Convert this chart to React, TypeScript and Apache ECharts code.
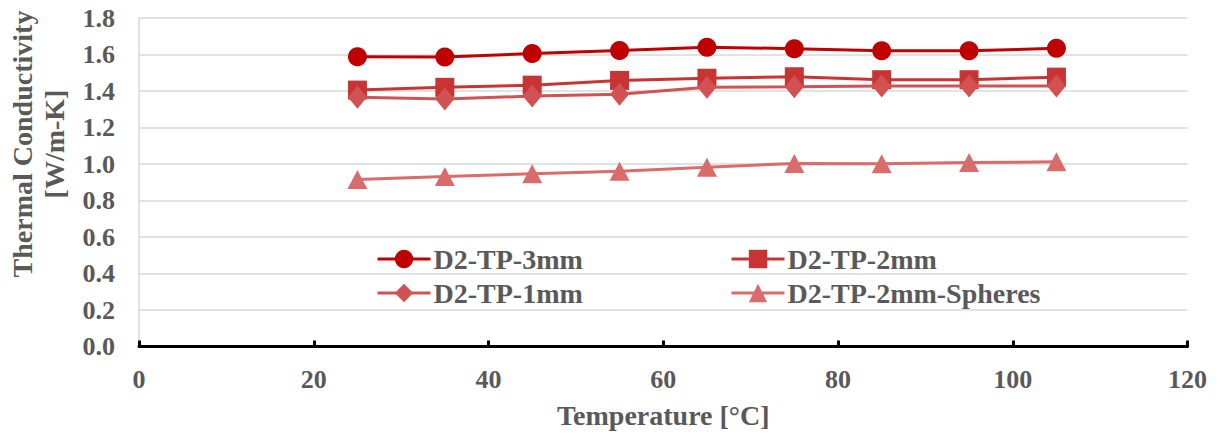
import React, { useEffect, useRef } from "react";
import * as echarts from "echarts";

const temperatures = [25, 35, 45, 55, 65, 75, 85, 95, 105];
const tp3mm = [1.588, 1.586, 1.605, 1.622, 1.64, 1.632, 1.62, 1.62, 1.634];
const tp2mm = [1.405, 1.42, 1.432, 1.458, 1.47, 1.478, 1.462, 1.462, 1.476];
const tp1mm = [1.366, 1.356, 1.372, 1.382, 1.42, 1.423, 1.428, 1.428, 1.428];
const tp2mmSpheres = [0.915, 0.932, 0.946, 0.96, 0.982, 1.003, 1.002, 1.008, 1.012];

const seriesNames = ["D2-TP-3mm", "D2-TP-2mm", "D2-TP-1mm", "D2-TP-2mm-Spheres"];
const seriesColors = ["#C00000", "#C83434", "#D05252", "#DA6B6B"];
const yTitle = "Thermal Conductivity\n[W/m-K]";
const xTitle = "Temperature [°C]";

const FONT = '"Liberation Serif", "Times New Roman", serif';
const TEXT_COLOR = "#595959";

export default function App() {
  const ref = useRef<HTMLDivElement>(null);

  useEffect(() => {
    document.body.style.margin = "0";
    if (!ref.current) return;
    const chart = echarts.init(ref.current, null, { renderer: "svg" });

    const values = [tp3mm, tp2mm, tp1mm, tp2mmSpheres];
    const symbols = ["circle", "rect", "diamond", "triangle"];
    const sizes: any[] = [19, 19, [19, 23], [20, 19]];

    const legendPos = [
      { left: 376, top: 245 },
      { left: 730, top: 245 },
      { left: 376, top: 279 },
      { left: 730, top: 279 },
    ];

    const tickStyle = {
      fontFamily: FONT,
      fontWeight: "bold" as const,
      fontSize: 26,
      color: TEXT_COLOR,
    };
    const titleStyle = { ...tickStyle, fontSize: 28 };

    chart.setOption({
      animation: false,
      backgroundColor: "#ffffff",
      grid: { left: 139, right: 33.5, top: 18, bottom: 91.5, containLabel: false },
      xAxis: {
        type: "value",
        min: 0,
        max: 120,
        interval: 20,
        name: xTitle,
        nameLocation: "middle",
        nameGap: 55,
        nameTextStyle: titleStyle,
        axisLine: { show: true, lineStyle: { color: "#000000", width: 3 } },
        axisTick: { show: true, inside: true, length: 6, lineStyle: { color: "#000000", width: 3 } },
        axisLabel: { ...tickStyle, margin: 20 },
        splitLine: { show: false },
      },
      yAxis: {
        type: "value",
        min: 0,
        max: 1.8,
        interval: 0.2,
        axisLine: { show: true, lineStyle: { color: "#D9D9D9", width: 1.5 } },
        axisTick: { show: false },
        axisLabel: { ...tickStyle, margin: 24, formatter: (v: number) => v.toFixed(1) },
        splitLine: { show: true, lineStyle: { color: "#D9D9D9", width: 1.5 } },
      },
      legend: seriesNames.map((n, i) => ({
        data: [n],
        left: legendPos[i].left,
        top: legendPos[i].top,
        padding: 0,
        itemWidth: 53,
        itemHeight: 23,
        itemGap: 0,
        lineStyle: { width: 3 },
        textStyle: { ...titleStyle, padding: [0, 0, 0, -2] },
      })),
      graphic: [
        {
          type: "text",
          x: 38,
          y: 144,
          rotation: Math.PI / 2,
          style: {
            text: yTitle,
            fontFamily: FONT,
            fontWeight: "bold",
            fontSize: 28,
            fill: TEXT_COLOR,
            align: "center",
            verticalAlign: "middle",
            lineHeight: 32,
          },
        },
      ],
      series: seriesNames.map((n, i) => ({
        name: n,
        type: "line",
        data: temperatures.map((t, j) => [t, values[i][j]]),
        symbol: symbols[i],
        symbolSize: sizes[i],
        showSymbol: true,
        color: seriesColors[i],
        lineStyle: { color: seriesColors[i], width: 3 },
        itemStyle: { color: seriesColors[i] },
        z: 2 + i,
      })),
    });

    return () => chart.dispose();
  }, []);

  return <div ref={ref} style={{ width: 1221, height: 438 }} />;
}
